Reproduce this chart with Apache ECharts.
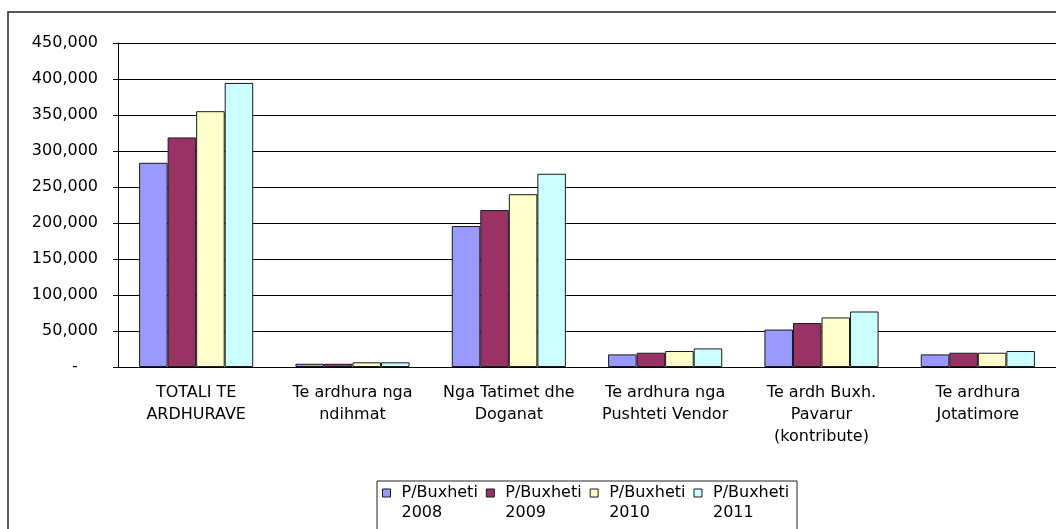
<!DOCTYPE html>
<html>
<head>
<meta charset="utf-8">
<script src="https://cdn.jsdelivr.net/npm/echarts@6/dist/echarts.min.js"></script>
<style>
  html, body { margin: 0; padding: 0; background: #fff; }
  #main { width: 1056px; height: 529px; }
</style>
</head>
<body>
<div id="main"></div>
<script>
var categories = ['TOTALI TE\nARDHURAVE', 'Te ardhura nga\nndihmat', 'Nga Tatimet dhe\nDoganat',
    'Te ardhura nga\nPushteti Vendor', 'Te ardh Buxh.\nPavarur\n(kontribute)', 'Te ardhura\nJotatimore'];
var seriesNames = ['P/Buxheti\n2008', 'P/Buxheti\n2009', 'P/Buxheti\n2010', 'P/Buxheti\n2011'];
var data2008 = [283600, 4500, 195800, 17500, 52000, 17500];
var data2009 = [318800, 4500, 218000, 19800, 61000, 19800];
var data2010 = [355300, 6500, 240000, 22200, 68800, 19800];
var data2011 = [394500, 6500, 268400, 25800, 77100, 22200];
var colors = ['#9999ff', '#993366', '#ffffcc', '#ccffff'];

var font = 'DejaVu Sans';
var chart = echarts.init(document.getElementById('main'));
var allData = [data2008, data2009, data2010, data2011];
var series = [];
for (var i = 0; i < allData.length; i++) {
    series.push({
        type: 'bar',
        name: seriesNames[i],
        data: allData[i],
        barGap: '0%',
        barCategoryGap: '27%',
        itemStyle: {
            color: colors[i],
            borderColor: '#1a1a1a',
            borderWidth: 1
        }
    });
}

var option = {
    animation: false,
    color: colors,
    graphic: [{
        type: 'rect',
        shape: { x: 8, y: 12, width: 1200, height: 700 },
        style: { fill: 'none', stroke: '#222', lineWidth: 1.5 },
        silent: true
    }, {
        type: 'rect',
        shape: { x: 377, y: 481, width: 420, height: 100 },
        style: { fill: 'none', stroke: '#222', lineWidth: 1 },
        silent: true
    }],
    grid: {
        left: 118,
        top: 43,
        width: 942,
        height: 324
    },
    legend: {
        data: seriesNames,
        left: 382,
        top: 463,
        padding: 0,
        itemGap: 8,
        itemWidth: 8,
        itemHeight: 8,
        icon: 'rect',
        itemStyle: { borderColor: '#1a1a1a', borderWidth: 1 },
        // empty first line so the marker sits beside the first text line
        formatter: function (name) {
            return '\n' + name;
        },
        textStyle: {
            fontFamily: font,
            fontSize: 16,
            color: '#000',
            lineHeight: 20,
            padding: [0, 0, 0, 6]
        }
    },
    xAxis: {
        type: 'category',
        data: categories,
        axisLine: { lineStyle: { color: '#000', width: 1 } },
        axisTick: { length: 5, lineStyle: { color: '#000' } },
        axisLabel: {
            interval: 0,
            margin: 15,
            fontFamily: font,
            fontSize: 16,
            lineHeight: 22,
            color: '#000'
        }
    },
    yAxis: {
        type: 'value',
        min: 0,
        max: 450000,
        interval: 50000,
        axisLine: { show: true, lineStyle: { color: '#000', width: 1 } },
        axisTick: { show: true, length: 5, lineStyle: { color: '#000' } },
        splitLine: { lineStyle: { color: '#000', width: 1 } },
        axisLabel: {
            margin: 20,
            fontFamily: font,
            fontSize: 16,
            color: '#000',
            formatter: function (v) {
                if (v === 0) return '-    ';
                return v.toString().replace(/\B(?=(\d{3})+(?!\d))/g, ',');
            }
        }
    },
    series: series
};

chart.setOption(option);
window.addEventListener('resize', function () {
    chart.resize();
});
</script>
</body>
</html>
